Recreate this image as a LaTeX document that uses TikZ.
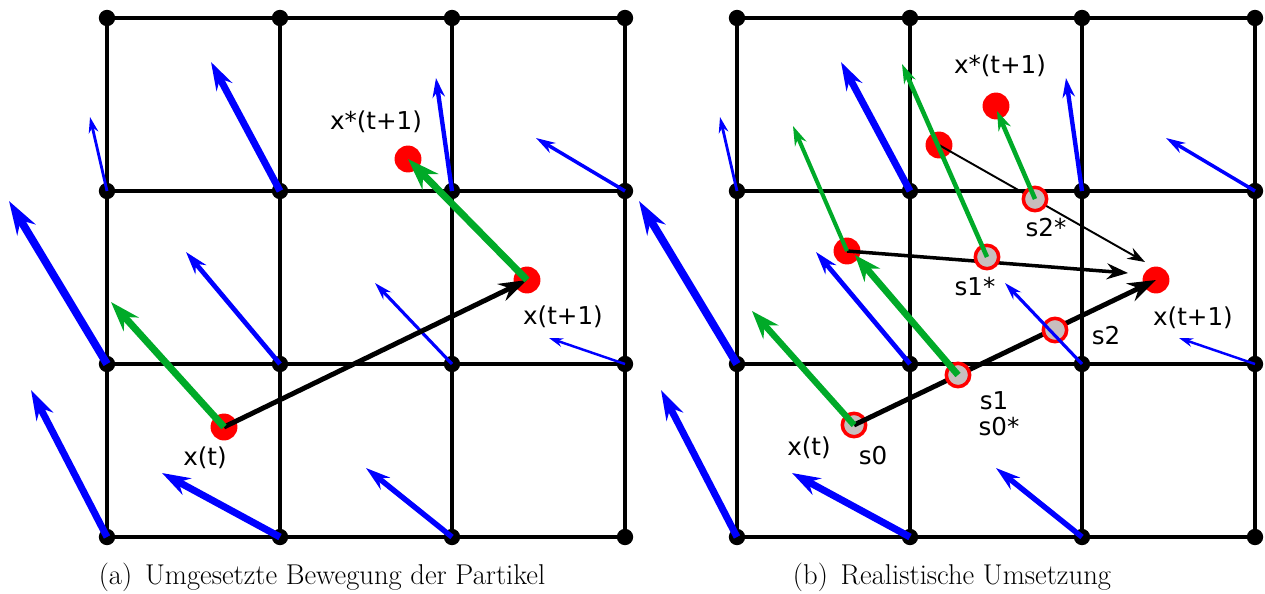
\documentclass[tikz,border=0pt]{standalone}
\usepackage{fontspec}
\newfontfamily\lblfont{DejaVu Sans}
\usetikzlibrary{arrows.meta}
\definecolor{fblue}{RGB}{0,0,255}
\definecolor{fgreen}{RGB}{0,170,40}
\definecolor{fred}{RGB}{255,0,0}
\definecolor{fgray}{RGB}{200,190,190}
\begin{document}
\begin{tikzpicture}[x=0.02cm,y=-0.02cm,
  gridline/.style={line width=1.8pt},
  gdot/.style={circle,fill=black,inner sep=0pt,minimum size=9.3pt},
  rdot/.style={circle,fill=fred,inner sep=0pt,minimum size=15.3pt},
  hdot/.style={circle,fill=fgray,draw=fred,line width=2pt,inner sep=0pt,minimum size=13.3pt},
  vfield/.style={draw=fblue},
  grn/.style={draw=fgreen},
  blk/.style={draw=black},
  lbl/.style={font=\lblfont\fontsize{14}{16}\selectfont,inner sep=0pt},
  captxt/.style={font=\fontsize{16.3}{19}\selectfont,inner sep=0pt}]
\useasboundingbox (0,0) rectangle (1265,593);

% grid coordinates
\foreach \p/\ox in {L/107,R/737}{
  \foreach \i/\xx in {0/0,1/173,2/345,3/518}{
    \foreach \j/\yy in {0/18,1/191,2/364,3/537}{
      \coordinate (\p\i\j) at (\ox+\xx,\yy);
    }}}

% grid lines and dots
\foreach \p in {L,R}{
  \foreach \k in {0,...,3}{
    \draw[gridline] (\p0\k) -- (\p3\k);
    \draw[gridline] (\p\k0) -- (\p\k3);
  }
  \foreach \i in {0,...,3}{
    \foreach \j in {0,...,3}{
      \node[gdot] (d\p\i\j) at (\p\i\j) {};
    }}
}

% ---------- left panel ----------
\foreach \v/\dx/\dy/\lw/\al/\aw in {01/-17/-74/1.6/9/5.5, 11/-69/-129/4/16/10, 21/-16/-113/2.5/11/7, 31/-89/-53/2/11/6.5, 02/-98/-163/4.5/19/12, 12/-94/-112/2.7/13/8, 22/-77/-81/1.8/10/6, 32/-76/-26/1.4/8/5, 03/-76/-147/4/17/10.5, 13/-118/-64/4/16/10.5, 23/-86/-69/3.1/14/8.5}{
  \coordinate (btL\v) at ([shift={(\dx,\dy)}]L\v);
  \draw[vfield,line width=\lw pt,-{Stealth[length=\al pt,width=\aw pt]}] (L\v) -- (btL\v);
}

\coordinate (Lxt) at (224,427);
\coordinate (Lxs) at (408,159);
\coordinate (Lxn) at (527,280);
\coordinate (Lg1) at (111,302);
\node[rdot] (rLxt) at (Lxt) {};
\node[rdot] (rLxs) at (Lxs) {};
\node[rdot] (rLxn) at (Lxn) {};
\draw[blk,line width=2.8pt,-{Stealth[length=16pt,width=10.5pt]}] (Lxt) -- (Lxn);
\draw[grn,line width=4pt,-{Stealth[length=17pt,width=11.5pt]}] (Lxt) -- (Lg1);
\draw[grn,line width=4pt,-{Stealth[length=18pt,width=12.5pt]}] (Lxn) -- (Lxs);

\node[lbl] (tLxs) at (376,122) {x*(t+1)};
\node[lbl] (tLxn) at (563,317) {x(t+1)};
\node[lbl] (tLxt) at (205,458) {x(t)};

% ---------- right panel ----------
\coordinate (s0) at (854,425);
\coordinate (s1) at (958,375);
\coordinate (s2) at (1055,330);
\coordinate (s1s) at (987,257);
\coordinate (s2s) at (1035,199);
\coordinate (rd1) at (847,251);
\coordinate (rd2) at (939,145);
\coordinate (rd3) at (996,106);
\coordinate (Rxn) at (1156,280);
\coordinate (gs0) at (752,311);
\coordinate (gs1) at (855,255);
\coordinate (grd1) at (793,126);
\coordinate (gs1s) at (902,64);
\coordinate (gs2s) at (997,111);
\coordinate (bm) at (1128,273);
\coordinate (bt) at (1145,262);

\node[rdot] (rrd1) at (rd1) {};
\node[rdot] (rrd2) at (rd2) {};
\node[rdot] (rrd3) at (rd3) {};
\node[rdot] (rRxn) at (Rxn) {};
\node[hdot] (hs0) at (s0) {};
\draw[blk,line width=2.8pt,-{Stealth[length=16pt,width=11pt]}] (s0) -- (Rxn);
\draw[blk,line width=2pt,-{Stealth[length=12pt,width=9pt]}] (rd1) -- (bm);
\draw[blk,line width=1.1pt,-{Stealth[length=10pt,width=7pt]}] (rd2) -- (bt);
\node[hdot] (hs1) at (s1) {};
\node[hdot] (hs2) at (s2) {};
\node[hdot] (hs1s) at (s1s) {};
\node[hdot] (hs2s) at (s2s) {};

\foreach \v/\dx/\dy/\lw/\al/\aw in {01/-17/-74/1.6/9/5.5, 11/-69/-129/4/16/10, 21/-16/-113/2.5/11/7, 31/-89/-53/2/11/6.5, 02/-98/-163/4.5/19/12, 12/-94/-112/2.7/13/8, 22/-77/-81/1.8/10/6, 32/-76/-26/1.4/8/5, 03/-76/-147/4/17/10.5, 13/-118/-64/4/16/10.5, 23/-86/-69/3.1/14/8.5}{
  \coordinate (btR\v) at ([shift={(\dx,\dy)}]R\v);
  \draw[vfield,line width=\lw pt,-{Stealth[length=\al pt,width=\aw pt]}] (R\v) -- (btR\v);
}

\draw[grn,line width=3.6pt,-{Stealth[length=16pt,width=11.5pt]}] (s0) -- (gs0);
\draw[grn,line width=3.8pt,-{Stealth[length=15pt,width=11.5pt]}] (s1) -- (gs1);
\draw[grn,line width=2.3pt,-{Stealth[length=11pt,width=7pt]}] (rd1) -- (grd1);
\draw[grn,line width=2.6pt,-{Stealth[length=11pt,width=7pt]}] (s1s) -- (gs1s);
\draw[grn,line width=2.6pt,-{Stealth[length=11pt,width=7.5pt]}] (s2s) -- (gs2s);

\node[lbl] (tRxs) at (1000,66) {x*(t+1)};
\node[lbl] (ts2s) at (1046,228) {s2*};
\node[lbl] (ts1s) at (975,287) {s1*};
\node[lbl] (ts2) at (1106,336) {s2};
\node[lbl] (tRxn) at (1193,318) {x(t+1)};
\node[lbl] (ts1) at (994,401) {s1};
\node[lbl] (ts0s) at (999,427) {s0*};
\node[lbl] (tRxt) at (809,448) {x(t)};
\node[lbl] (ts0) at (873,456) {s0};

% captions
\node[captxt] (capa) at (322,577) {(a)\hspace{0.45em}Umgesetzte Bewegung der Partikel};
\node[captxt] (capb) at (952,577) {(b)\hspace{0.45em}Realistische Umsetzung};
\end{tikzpicture}
\end{document}
